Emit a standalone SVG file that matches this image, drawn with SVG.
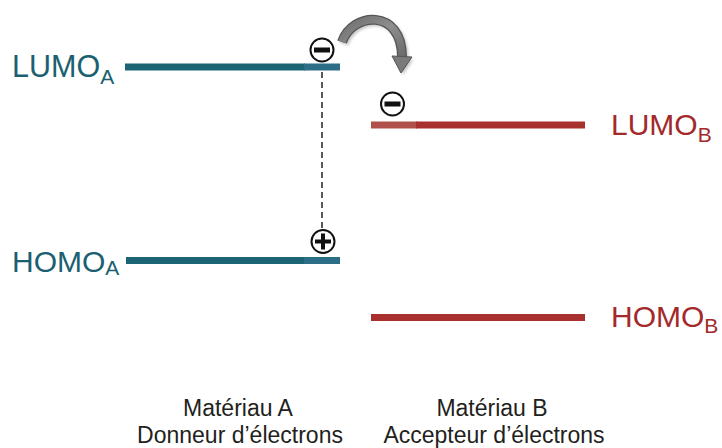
<svg xmlns="http://www.w3.org/2000/svg" width="722" height="448" viewBox="0 0 722 448">
  <style>
    .lbl { font-family: "Liberation Sans", Arial, sans-serif; }
    .a { fill: #1b6070; }
    .b { fill: #a3292a; }
    .cap { font-family: "Liberation Sans", Arial, sans-serif; font-size: 23px; fill: #231f20; text-anchor: middle; }
    .charge { fill: #ffffff; stroke: #111111; stroke-width: 2; }
  </style>
  <defs>
    <linearGradient id="arrowFill" x1="0" y1="0" x2="1" y2="1">
      <stop offset="0" stop-color="#6f6f6f"/>
      <stop offset="0.5" stop-color="#8e8e8e"/>
      <stop offset="1" stop-color="#6a6a6a"/>
    </linearGradient>
    <filter id="soft" x="-20%" y="-20%" width="140%" height="140%">
      <feGaussianBlur stdDeviation="1.6"/>
    </filter>
  </defs>

  <rect width="722" height="448" fill="#ffffff"/>

  <!-- energy levels, material A -->
  <g id="lumoA">
    <rect x="125" y="63.5" width="180" height="7" fill="#1b6474"/>
    <rect x="304" y="63.5" width="36" height="7" fill="#2c6e86"/>
    <text class="lbl a" x="12" y="77" font-size="30.5">LUMO<tspan font-size="21" dy="7">A</tspan></text>
  </g>
  <g id="homoA">
    <rect x="126" y="257" width="180" height="7" fill="#1b6474"/>
    <rect x="304" y="257" width="36" height="7" fill="#2c6e86"/>
    <text class="lbl a" x="12" y="272" font-size="30">HOMO<tspan font-size="21" dy="3">A</tspan></text>
  </g>

  <!-- energy levels, material B -->
  <g id="lumoB">
    <rect x="371" y="121.5" width="46" height="7" fill="#b0504b"/>
    <rect x="416" y="121.5" width="169" height="7" fill="#a8302e"/>
    <text class="lbl b" x="611" y="135" font-size="30">LUMO<tspan font-size="21" dy="7">B</tspan></text>
  </g>
  <g id="homoB">
    <rect x="371" y="314" width="214" height="7" fill="#a8302e"/>
    <text class="lbl b" x="611" y="327" font-size="30">HOMO<tspan font-size="21" dy="6">B</tspan></text>
  </g>

  <!-- connectors: exciton bond and electron transfer -->
  <g id="connectors">
    <line x1="322" y1="72" x2="322" y2="229" stroke="#222222" stroke-width="1.5" stroke-dasharray="6 4"/>
    <g id="transfer">
      <g filter="url(#soft)" opacity="0.35" transform="translate(2 2)">
        <path d="M 342 42 C 352 12, 402 8, 402 57" fill="none" stroke="#555" stroke-width="9"/>
        <polygon points="393,57 411,58 401,73" fill="#555"/>
      </g>
      <path d="M 342 42 C 352 12, 402 8, 402 57" fill="none" stroke="#555555" stroke-width="10"/>
      <path d="M 342 42 C 352 12, 402 8, 402 57" fill="none" stroke="url(#arrowFill)" stroke-width="7.5"/>
      <polygon points="392,56 412,57 401,73" fill="#7a7a7a" stroke="#555555" stroke-width="1"/>
    </g>
  </g>

  <!-- charges -->
  <g id="electronA">
    <circle class="charge" cx="322" cy="50" r="11.5"/>
    <rect x="314" y="47.5" width="16" height="5" fill="#111111"/>
  </g>
  <g id="holeA">
    <circle class="charge" cx="323" cy="241.5" r="11.5"/>
    <rect x="315" y="239.5" width="16" height="4" fill="#111111"/>
    <rect x="321" y="233.5" width="4" height="16" fill="#111111"/>
  </g>
  <g id="electronB">
    <circle class="charge" cx="392.5" cy="104" r="11.5"/>
    <rect x="384.5" y="101.5" width="16" height="5" fill="#111111"/>
  </g>

  <!-- captions -->
  <g id="captionA">
    <text class="cap" x="238" y="416">Matériau A</text>
    <text class="cap" x="240" y="443">Donneur d’électrons</text>
  </g>
  <g id="captionB">
    <text class="cap" x="492" y="416">Matériau B</text>
    <text class="cap" x="494" y="443">Accepteur d’électrons</text>
  </g>
</svg>
